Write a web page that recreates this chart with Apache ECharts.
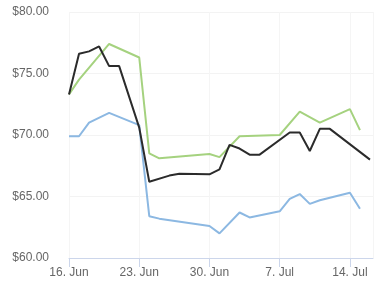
<!DOCTYPE html>
<html>
<head>
<meta charset="utf-8">
<script src="https://cdn.jsdelivr.net/npm/echarts@6/dist/echarts.min.js"></script>
<style>html,body{margin:0;padding:0;background:#fff}#c{width:385px;height:300px}</style>
</head>
<body>
<div id="c"></div>
<script>
// day offsets from 16 Jun
const tickLabels = {0:'16. Jun',7:'23. Jun',14:'30. Jun',21:'7. Jul',28:'14. Jul'};
const blackDays = [0,1,2,3,4,5,7,8,10,11,14,15,16,17,18,19,22,23,24,25,26,30];
const blackVals = [73.3,76.6,76.8,77.2,75.6,75.6,70.6,66.2,66.7,66.85,66.8,67.2,69.2,68.9,68.4,68.4,70.2,70.2,68.7,70.5,70.5,68.0];
const greenDays = [0,1,4,7,8,9,14,15,17,21,23,25,28,29];
const greenVals = [73.3,74.5,77.4,76.3,68.5,68.1,68.45,68.2,69.9,70.0,71.9,71.0,72.1,70.4];
const blueDays = [0,1,2,4,7,8,9,14,15,17,18,21,22,23,24,25,28,29];
const blueVals = [69.9,69.9,71.0,71.8,70.8,63.4,63.2,62.6,62.0,63.7,63.3,63.8,64.8,65.2,64.4,64.7,65.3,64.0];

const pair = (d, v) => d.map((x, i) => [x, v[i]]);
const font = 'Liberation Sans, Arial, sans-serif';
const chart = echarts.init(document.getElementById('c'), null, {renderer: 'canvas'});
const mk = (data, color) => ({
  type: 'line', data: data, symbol: 'none', smooth: false,
  lineStyle: {color: color, width: 2}, itemStyle: {color: color}
});
chart.setOption({
  animation: false,
  grid: {left: 69, right: 12, top: 12, bottom: 42},
  xAxis: {
    type: 'value', min: 0, max: 30.3, interval: 7,
    axisLine: {show: true, lineStyle: {color: '#ccd6eb'}},
    axisTick: {show: true, length: 9, lineStyle: {color: '#ccd6eb'}},
    splitLine: {show: true, lineStyle: {color: '#f5f5f5'}},
    axisLabel: {color: '#666', fontSize: 12, fontFamily: font, margin: 9,
      showMaxLabel: false,
      formatter: v => tickLabels[v] || ''}
  },
  yAxis: {
    type: 'value', min: 60, max: 80, interval: 5,
    axisLine: {show: false}, axisTick: {show: false},
    splitLine: {show: true, lineStyle: {color: '#f3f3f3'}},
    axisLabel: {color: '#666', fontSize: 12, fontFamily: font, margin: 20,
      formatter: v => '$' + v.toFixed(2)}
  },
  series: [
    mk(pair(blueDays, blueVals), '#8cb8e2'),
    mk(pair(greenDays, greenVals), '#a5d27f'),
    mk(pair(blackDays, blackVals), '#2b2b2b')
  ]
});
</script>
</body>
</html>
